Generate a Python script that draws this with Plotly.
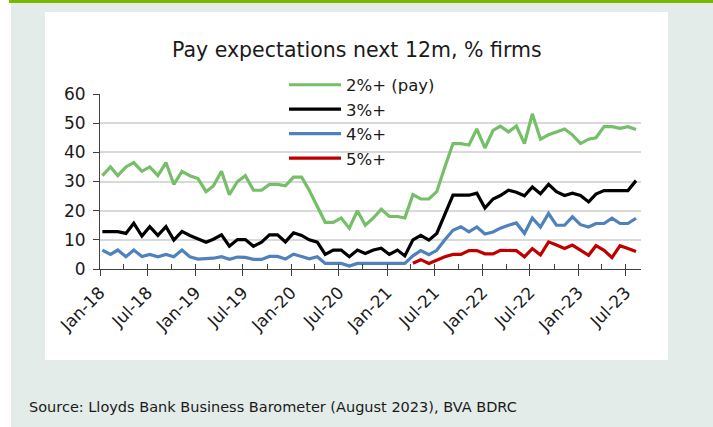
import plotly.graph_objects as go
import pandas as pd

W, H = 713, 427

# ---- data (monthly, Jan-18 .. Aug-23) ----
months = pd.date_range("2018-01-01", periods=68, freq="MS")
dates = months + pd.Timedelta(days=9)

pay2 = [32, 35, 32, 35, 36.5, 33.5, 35, 32, 36.5, 29,
        33.5, 32, 31, 26.5, 28.5, 33.5, 25.5, 30, 32, 27,
        27, 29, 29, 28.5, 31.5, 31.5, 27, 21.5, 16, 16,
        17.5, 14, 20, 15, 17.5, 20.5, 18, 18, 17.5, 25.5,
        24, 24, 26.5, 35, 43, 43, 42.5, 48, 41.5, 47.5,
        49, 47, 49, 43, 53.2, 44.5, 46, 47, 48, 46,
        43, 44.5, 45, 48.8, 48.8, 48.2, 48.8, 47.8]
pay3 = [12.8, 12.8, 12.8, 12.2, 15.7, 11.3, 14.5, 11.5, 14.5, 9.9,
        12.9, 11.5, 10.2, 9.2, 10.2, 11.7, 7.8, 10.1, 10.1, 7.8,
        9.2, 11.7, 11.7, 9.3, 12.4, 11.5, 10, 9.2, 5, 6.5,
        6.5, 4.2, 6.5, 5.3, 6.5, 7.1, 5, 6.5, 4.5, 10,
        11.5, 9.9, 12.2, 19, 25.3, 25.3, 25.3, 26, 20.9, 24,
        25.2, 27, 26.3, 25.1, 28.1, 25.8, 29, 26.5, 25.2, 26,
        25.2, 23, 25.7, 26.9, 26.9, 26.9, 26.9, 30.3]
pay4 = [6.5, 5, 6.5, 4.2, 6.5, 4.3, 5, 4.2, 5, 4.2,
        6.5, 4.2, 3.4, 3.5, 3.7, 4.2, 3.3, 4.1, 4, 3.3,
        3.3, 4.3, 4.3, 3.4, 5.1, 4.3, 3.5, 4.2, 1.9, 1.9,
        1.9, 1.0, 1.9, 1.9, 1.9, 1.9, 1.9, 1.9, 1.9, 4.5,
        6.3, 4.9, 6.4, 10, 13.3, 14.5, 12.7, 14.4, 12, 12.7,
        14, 15, 15.8, 12.2, 17.5, 14.4, 19, 15, 15, 17.9,
        15.2, 14.4, 15.6, 15.6, 17.4, 15.6, 15.6, 17.4]
pay5 = [None] * 39 + [2, 3.2, 1.9, 3.1, 4.2, 5, 5, 6.3, 6.3, 5.2,
                      5.2, 6.4, 6.4, 6.3, 4.2, 7, 4.8, 9.3, 8.2, 7,
                      8.2, 6.5, 4.7, 8, 6.4, 3.9, 8, 7, 6]

series_names = ["2%+ (pay)", "3%+", "4%+", "5%+"]
series_vals = [pay2, pay3, pay4, pay5]
series_colors = ["#74BF67", "#000000", "#4F81BD", "#C00000"]

title_text = "Pay expectations next 12m, % firms"
source_text = "Source: Lloyds Bank Business Barometer (August 2023), BVA BDRC"

# ---- layout geometry (pixels) ----
PL, PR, PT, PB = 100, 641, 94, 269   # plot area
def px(x):
    return (x - PL) / (PR - PL)
def py(y):
    return (PB - y) / (PB - PT)

FONT = "DejaVu Sans, Arial, sans-serif"
TXT = "#1A1A1A"

fig = go.Figure()
for name, vals, col in zip(series_names, series_vals, series_colors):
    fig.add_trace(go.Scatter(x=dates, y=vals, name=name, mode="lines",
                             line=dict(color=col, width=3.2),
                             connectgaps=False))

# overlay axis carrying the inside part of the crossing ticks
fig.add_trace(go.Scatter(x=[dates[0]], y=[None], xaxis="x2", showlegend=False,
                         hoverinfo="skip"))

shapes = [
    dict(type="rect", xref="paper", yref="paper", x0=px(11), x1=px(713), y0=py(427), y1=py(2),
         fillcolor="#E3ECE8", line=dict(width=0), layer="below"),
    dict(type="rect", xref="paper", yref="paper", x0=px(9), x1=px(713), y0=py(3), y1=py(0),
         fillcolor="#78B800", line=dict(width=0), layer="below"),
    dict(type="rect", xref="paper", yref="paper", x0=px(45), x1=px(668), y0=py(360), y1=py(12),
         fillcolor="#FFFFFF", line=dict(width=0), layer="below"),
]

fig.update_layout(
    width=W, height=H,
    margin=dict(l=PL, r=W - PR, t=PT, b=H - PB, pad=0),
    paper_bgcolor="#FFFFFF", plot_bgcolor="rgba(0,0,0,0)",
    font=dict(family=FONT, color=TXT),
    shapes=shapes,
    showlegend=True,
    legend=dict(x=px(284), y=py(67.5), xanchor="left", yanchor="top",
                bgcolor="rgba(0,0,0,0)", font=dict(size=16.5, family=FONT, color=TXT),
                itemwidth=52, tracegroupgap=0),
    xaxis=dict(type="date", range=["2018-01-01", "2023-08-29"],
               tick0="2018-01-01", dtick="M6", tickformat="%b-%y",
               tickangle=-45, ticks="outside", ticklen=6, tickcolor="#404040",
               tickfont=dict(size=17, family=FONT, color=TXT),
               showline=True, linecolor="#404040", linewidth=1,
               showgrid=False, zeroline=False, fixedrange=True),
    xaxis2=dict(type="date", overlaying="x", matches="x", anchor="y", side="bottom",
                tick0="2018-01-01", dtick="M3", ticks="inside", ticklen=5, tickcolor="#404040",
                showticklabels=False, showline=False, showgrid=False, zeroline=False),
    yaxis=dict(range=[0, 60], dtick=10, ticks="outside", ticklen=6, tickcolor="#404040",
               tickfont=dict(size=17, family=FONT, color=TXT), ticklabelstandoff=4,
               showline=True, linecolor="#404040", linewidth=1,
               showgrid=True, gridcolor="#D9D9D9", gridwidth=2, zeroline=False,
               fixedrange=True),
    annotations=[
        dict(text=title_text, xref="paper", yref="paper", x=px(357), y=py(50),
             xanchor="center", yanchor="middle", showarrow=False,
             font=dict(size=20.5, family=FONT, color=TXT)),
        dict(text=source_text, xref="paper", yref="paper", x=px(27), y=py(407),
             xanchor="left", yanchor="middle", showarrow=False,
             font=dict(size=14.5, family=FONT, color=TXT)),
    ],
)

fig.write_html("out.html", post_script="document.body.style.margin='0';",
               config={"displayModeBar": False, "staticPlot": True})
